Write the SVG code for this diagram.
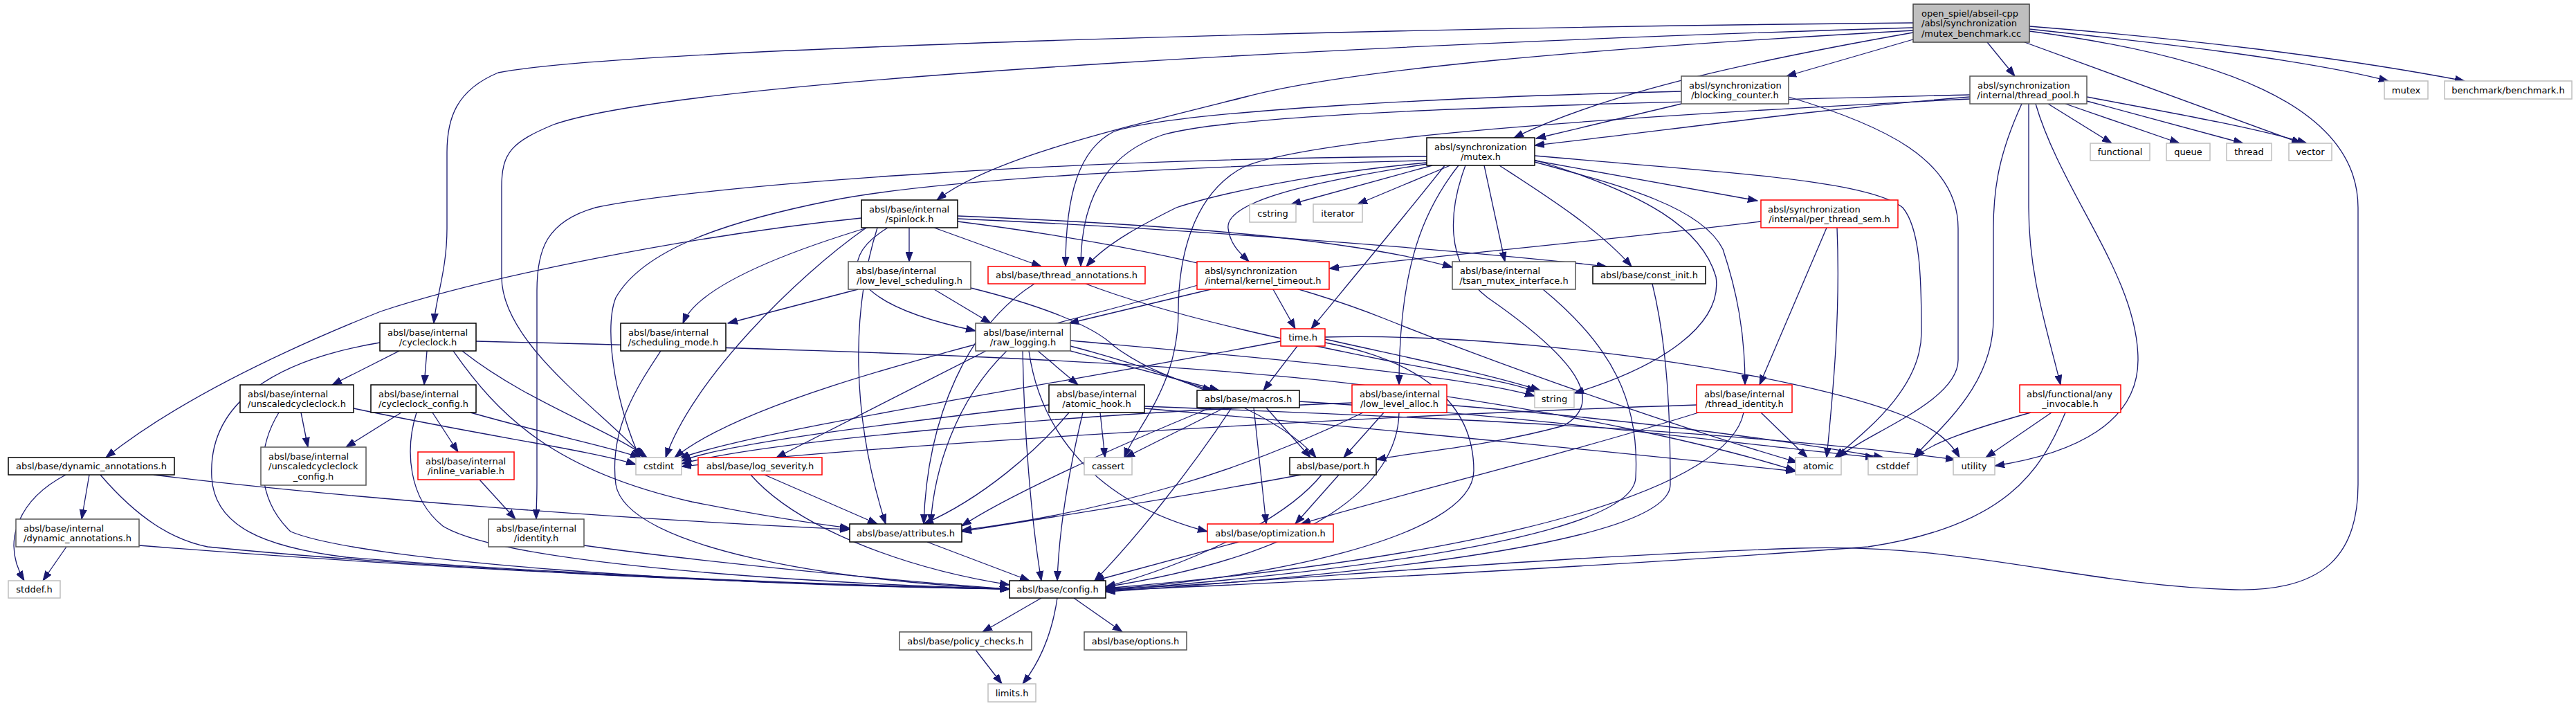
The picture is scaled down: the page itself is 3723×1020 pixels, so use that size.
<svg xmlns="http://www.w3.org/2000/svg" width="3723" height="1020" viewBox="0 0 3723 1020">
<defs>
<style>
.e{fill:none;stroke:#191970;stroke-width:1.3;marker-end:url(#ah)}
.b{fill:#fff;stroke:#000;stroke-width:1.5}
.g{fill:#fff;stroke:#555;stroke-width:1.5}
.r{fill:#fff;stroke:#f00;stroke-width:1.5}
.x{fill:#fff;stroke:#bfbfbf;stroke-width:1.5}
.root{fill:#bfbfbf;stroke:#444;stroke-width:1.5}
text{font-family:"DejaVu Sans","Liberation Sans",sans-serif;font-size:13px;fill:#000}
.c{text-anchor:middle}
.l{text-anchor:start}
</style>
<marker id="ah" markerUnits="userSpaceOnUse" markerWidth="15" markerHeight="11" refX="14" refY="5.5" orient="auto"><path d="M0,0.5 L14,5.5 L0,10.5 z" fill="#191970" stroke="#191970" stroke-width="1"/></marker>
</defs>
<rect width="3723" height="1020" fill="#fff"/>
<g id="edges">
<path class="e" d="M2765,33 C2000,40 900,70 720,105 C660,130 646,170 646,220 L646,330 C646,390 630,430 627,467"/>
<path class="e" d="M2765,40 C2100,60 1000,110 800,180 C740,205 725,220 725,270 L725,400 C725,500 880,600 930,661"/>
<path class="e" d="M2933,45 C3200,80 3408,150 3408,300 L3408,700 C3408,800 3360,855 3230,852 C3000,845 2850,785 2600,792 C2200,805 1800,845 1598,851"/>
<path class="e" d="M2926,61 L3326,207"/>
<path class="e" d="M2933,42 C3100,60 3330,85 3452,117"/>
<path class="e" d="M2933,38 C3150,55 3380,82 3562,117"/>
<path class="e" d="M2872,61 L2912,110"/>
<path class="e" d="M2765,57 L2582,110"/>
<path class="e" d="M2765,47 C2550,85 2330,130 2188,199"/>
<path class="e" d="M2765,44 C2300,70 1950,100 1800,140 C1600,190 1430,230 1354,289"/>
<path class="e" d="M2430,150 L2220,200"/>
<path class="e" d="M2430,132 C2100,140 1700,160 1610,190 C1560,215 1540,280 1540,385"/>
<path class="e" d="M2585,140 C2720,180 2830,230 2830,330 L2830,520 C2830,580 2700,625 2656,661"/>
<path class="e" d="M2847,140 C2600,160 2400,190 2218,210"/>
<path class="e" d="M2847,137 C2300,150 1800,160 1680,195 C1590,225 1562,300 1562,385"/>
<path class="e" d="M2847,143 C2300,170 1900,200 1800,240 C1720,280 1703,380 1703,450 C1703,560 1640,620 1625,661"/>
<path class="e" d="M2960,150 L3052,207"/>
<path class="e" d="M2985,150 L3150,207"/>
<path class="e" d="M3016,146 L3242,207"/>
<path class="e" d="M3016,140 C3150,165 3260,185 3334,207"/>
<path class="e" d="M2922,150 C2890,220 2881,270 2881,330 L2881,460 C2881,560 2800,620 2766,661"/>
<path class="e" d="M2932,150 L2932,300 C2932,400 2960,480 2978,556"/>
<path class="e" d="M2942,150 C2980,280 3090,400 3090,520 C3090,610 3000,655 2883,673"/>
<path class="e" d="M2070,239 L1866,295"/>
<path class="e" d="M2096,239 L1962,295"/>
<path class="e" d="M2062,237 C1900,262 1770,290 1775,330 C1778,355 1795,368 1805,378"/>
<path class="e" d="M2088,239 C2040,300 1990,360 1895,475"/>
<path class="e" d="M2145,239 L2175,378"/>
<path class="e" d="M2167,239 C2230,280 2310,330 2358,385"/>
<path class="e" d="M2108,239 C2060,300 2022,380 2022,556"/>
<path class="e" d="M2218,234 C2350,270 2460,300 2490,360 C2510,420 2522,480 2522,556"/>
<path class="e" d="M2118,239 C2095,300 2085,380 2150,430 C2280,520 2320,580 2260,615 C2150,645 2050,652 1989,664"/>
<path class="e" d="M2218,231 C2380,280 2460,330 2480,400 C2490,470 2400,530 2275,568"/>
<path class="e" d="M2218,225 C2500,250 2700,260 2750,300 C2775,330 2777,400 2777,480 C2777,560 2700,620 2652,661"/>
<path class="e" d="M2062,226 C1500,230 1000,270 860,300 C790,320 776,360 776,420 L776,700 C776,720 775,735 775,750"/>
<path class="e" d="M2062,232 C1700,240 1350,260 1200,290 C1050,320 930,360 890,430 C870,480 895,600 925,661"/>
<path class="e" d="M2062,235 C1900,250 1760,280 1700,300 C1660,320 1600,350 1570,385"/>
<path class="e" d="M2218,232 L2540,290"/>
<path class="e" d="M1384,312 C1700,325 1950,345 2099,386"/>
<path class="e" d="M1384,316 C1700,330 2100,360 2322,385"/>
<path class="e" d="M1384,320 C1700,360 1900,420 2000,460 C2200,540 2450,625 2598,668"/>
<path class="e" d="M1252,329 C1150,400 1000,550 962,661"/>
<path class="e" d="M1268,329 C1230,450 1230,600 1280,757"/>
<path class="e" d="M1245,315 C1000,340 700,400 550,450 C350,530 230,600 153,661"/>
<path class="e" d="M1314,329 L1314,378"/>
<path class="e" d="M1283,329 C1200,380 1230,440 1410,478"/>
<path class="e" d="M1260,327 C1150,360 1010,410 987,467"/>
<path class="e" d="M1350,329 L1505,385"/>
<path class="e" d="M688,493 C1200,505 1700,520 2000,560 C2300,600 2500,650 2595,680"/>
<path class="e" d="M668,507 C760,580 880,620 935,661"/>
<path class="e" d="M655,507 C720,600 800,680 1000,725 C1100,745 1180,757 1228,763"/>
<path class="e" d="M549,495 C400,520 300,580 306,690 C310,760 380,790 500,805 C800,830 1200,845 1459,851"/>
<path class="e" d="M617,507 L613,556"/>
<path class="e" d="M577,507 L480,556"/>
<path class="e" d="M435,596 L445,646"/>
<path class="e" d="M511,590 C700,630 850,650 919,671"/>
<path class="e" d="M403,596 C370,650 370,720 420,768 C520,810 1000,845 1459,851"/>
<path class="e" d="M580,596 L500,646"/>
<path class="e" d="M625,596 L662,653"/>
<path class="e" d="M680,596 C800,630 880,645 925,661"/>
<path class="e" d="M602,596 C585,650 590,720 640,760 C720,810 1100,840 1459,851"/>
<path class="e" d="M693,693 L745,750"/>
<path class="e" d="M844,788 C1000,810 1300,840 1459,851"/>
<path class="e" d="M95,686 C30,720 0,780 35,839"/>
<path class="e" d="M129,686 L118,750"/>
<path class="e" d="M145,686 C200,750 250,780 300,790 C600,820 1100,845 1459,851"/>
<path class="e" d="M222,686 C500,720 900,750 1228,765"/>
<path class="e" d="M96,790 L62,839"/>
<path class="e" d="M201,788 C600,820 1100,845 1459,851"/>
<path class="e" d="M955,507 C920,560 880,620 890,700 C905,790 1200,840 1459,851"/>
<path class="e" d="M1240,418 L1052,467"/>
<path class="e" d="M1350,418 L1432,467"/>
<path class="e" d="M1403,416 C1500,440 1580,470 1610,500 C1650,530 1700,550 1752,564"/>
<path class="e" d="M1495,410 C1400,470 1340,600 1335,757"/>
<path class="e" d="M1569,410 C1700,460 1900,500 2000,520 C2100,540 2180,550 2220,566"/>
<path class="e" d="M1731,412 C1500,480 1100,560 975,661"/>
<path class="e" d="M1750,418 L1545,467"/>
<path class="e" d="M1840,418 L1872,475"/>
<path class="e" d="M1425,507 L1122,661"/>
<path class="e" d="M1455,507 C1380,580 1350,680 1345,757"/>
<path class="e" d="M1478,507 C1480,620 1490,750 1505,839"/>
<path class="e" d="M1500,507 L1558,556"/>
<path class="e" d="M1547,492 C1800,515 2100,540 2218,572"/>
<path class="e" d="M1547,500 C1700,540 1850,600 1902,661"/>
<path class="e" d="M1547,507 L1762,564"/>
<path class="e" d="M1487,507 C1500,600 1560,720 1745,768"/>
<path class="e" d="M1851,493 C1500,560 1100,620 982,662"/>
<path class="e" d="M1875,500 L1826,564"/>
<path class="e" d="M1915,490 C2050,520 2150,540 2226,564"/>
<path class="e" d="M1915,495 C2050,520 2130,580 2130,680 C2130,780 1800,840 1598,851"/>
<path class="e" d="M1915,487 C2200,480 2600,540 2750,600 C2800,620 2820,640 2832,661"/>
<path class="e" d="M1516,585 C1300,610 1050,640 985,666"/>
<path class="e" d="M1590,596 L1597,661"/>
<path class="e" d="M1545,596 C1500,650 1420,720 1335,757"/>
<path class="e" d="M1565,596 C1540,700 1530,780 1528,839"/>
<path class="e" d="M1654,590 C2000,620 2400,660 2595,681"/>
<path class="e" d="M1654,587 C2000,600 2500,620 2826,664"/>
<path class="e" d="M1770,589 L1626,661"/>
<path class="e" d="M1750,589 C1600,650 1450,720 1390,760"/>
<path class="e" d="M1780,589 C1720,680 1640,780 1582,839"/>
<path class="e" d="M1812,589 L1830,757"/>
<path class="e" d="M1830,589 L1894,661"/>
<path class="e" d="M1878,580 C2200,600 2500,640 2710,661"/>
<path class="e" d="M1954,582 C1500,600 1100,640 985,670"/>
<path class="e" d="M1970,596 C1800,680 1600,740 1390,766"/>
<path class="e" d="M2000,596 L1942,661"/>
<path class="e" d="M2022,596 C2020,700 1900,800 1598,848"/>
<path class="e" d="M2091,585 C2400,610 2600,640 2722,661"/>
<path class="e" d="M2452,585 C2000,600 1300,640 985,674"/>
<path class="e" d="M2545,596 L2612,661"/>
<path class="e" d="M2520,596 C2500,700 2200,800 1598,850"/>
<path class="e" d="M2455,596 C2250,660 2000,720 1880,757"/>
<path class="e" d="M2545,320 C2300,350 2050,372 1921,388"/>
<path class="e" d="M2640,329 L2543,556"/>
<path class="e" d="M2655,329 C2660,450 2650,560 2640,661"/>
<path class="e" d="M2935,596 C2850,620 2790,640 2768,661"/>
<path class="e" d="M2965,596 L2870,661"/>
<path class="e" d="M2985,596 C2950,680 2900,760 2700,790 C2300,820 1800,845 1598,853"/>
<path class="e" d="M1105,686 L1268,757"/>
<path class="e" d="M1085,686 C1150,760 1300,820 1459,845"/>
<path class="e" d="M1880,686 C1700,720 1500,750 1390,768"/>
<path class="e" d="M1910,686 C1850,760 1700,820 1598,848"/>
<path class="e" d="M1935,686 L1872,757"/>
<path class="e" d="M2230,418 C2330,500 2370,580 2364,690 C2360,780 1900,830 1598,853"/>
<path class="e" d="M2388,410 C2410,500 2414,600 2414,700 C2414,790 1900,835 1598,855"/>
<path class="e" d="M1340,783 L1488,839"/>
<path class="e" d="M1790,783 L1582,839"/>
<path class="e" d="M1505,864 L1420,913"/>
<path class="e" d="M1552,864 L1622,913"/>
<path class="e" d="M1528,864 C1520,920 1500,960 1478,988"/>
<path class="e" d="M1410,939 L1448,988"/>
</g>
<g id="n-root"><rect class="root" x="2765" y="6" width="168" height="55"/><text class="l" x="2777" y="23.5">open_spiel/abseil-cpp</text><text class="l" x="2777" y="38">/absl/synchronization</text><text class="c" x="2849" y="52.5">/mutex_benchmark.cc</text></g>
<g id="n-bc"><rect class="g" x="2430" y="110" width="155" height="40"/><text class="l" x="2441" y="127.5">absl/synchronization</text><text class="c" x="2507.5" y="142">/blocking_counter.h</text></g>
<g id="n-tp"><rect class="g" x="2847" y="110" width="169" height="40"/><text class="l" x="2858" y="127.5">absl/synchronization</text><text class="c" x="2931.5" y="142">/internal/thread_pool.h</text></g>
<g id="n-mutex"><rect class="x" x="3446" y="117" width="63" height="26"/><text class="c" x="3477.5" y="134.5">mutex</text></g>
<g id="n-bench"><rect class="x" x="3533" y="117" width="184" height="26"/><text class="c" x="3625" y="134.5">benchmark/benchmark.h</text></g>
<g id="n-functional"><rect class="x" x="3021" y="207" width="86" height="25"/><text class="c" x="3064" y="224">functional</text></g>
<g id="n-queue"><rect class="x" x="3131" y="207" width="63" height="25"/><text class="c" x="3162.5" y="224">queue</text></g>
<g id="n-thread"><rect class="x" x="3218" y="207" width="65" height="25"/><text class="c" x="3250.5" y="224">thread</text></g>
<g id="n-vector"><rect class="x" x="3308" y="207" width="62" height="25"/><text class="c" x="3339" y="224">vector</text></g>
<g id="n-mutexh"><rect class="b" x="2062" y="199" width="156" height="40"/><text class="l" x="2073" y="216.5">absl/synchronization</text><text class="c" x="2140" y="231">/mutex.h</text></g>
<g id="n-cstring"><rect class="x" x="1806" y="295" width="67" height="26"/><text class="c" x="1839.5" y="312.5">cstring</text></g>
<g id="n-iterator"><rect class="x" x="1898" y="295" width="71" height="26"/><text class="c" x="1933.5" y="312.5">iterator</text></g>
<g id="n-pts"><rect class="r" x="2545" y="289" width="198" height="40"/><text class="l" x="2555" y="306.5">absl/synchronization</text><text class="c" x="2644" y="321">/internal/per_thread_sem.h</text></g>
<g id="n-spin"><rect class="b" x="1245" y="289" width="139" height="40"/><text class="l" x="1256" y="306.5">absl/base/internal</text><text class="c" x="1314.5" y="321">/spinlock.h</text></g>
<g id="n-cyc"><rect class="b" x="549" y="467" width="139" height="40"/><text class="l" x="560" y="484.5">absl/base/internal</text><text class="c" x="618.5" y="499">/cycleclock.h</text></g>
<g id="n-sched"><rect class="b" x="897" y="467" width="152" height="40"/><text class="l" x="908" y="484.5">absl/base/internal</text><text class="c" x="973" y="499">/scheduling_mode.h</text></g>
<g id="n-lls"><rect class="g" x="1226" y="378" width="177" height="40"/><text class="l" x="1237" y="395.5">absl/base/internal</text><text class="c" x="1314.5" y="410">/low_level_scheduling.h</text></g>
<g id="n-ta"><rect class="r" x="1428" y="385" width="227" height="25"/><text class="c" x="1541.5" y="402">absl/base/thread_annotations.h</text></g>
<g id="n-kt"><rect class="r" x="1730" y="378" width="191" height="40"/><text class="l" x="1741" y="395.5">absl/synchronization</text><text class="c" x="1825.5" y="410">/internal/kernel_timeout.h</text></g>
<g id="n-tsan"><rect class="g" x="2099" y="378" width="178" height="40"/><text class="l" x="2110" y="395.5">absl/base/internal</text><text class="c" x="2188" y="410">/tsan_mutex_interface.h</text></g>
<g id="n-ci"><rect class="b" x="2302" y="385" width="163" height="25"/><text class="c" x="2383.5" y="402">absl/base/const_init.h</text></g>
<g id="n-rl"><rect class="g" x="1410" y="467" width="137" height="40"/><text class="l" x="1421" y="484.5">absl/base/internal</text><text class="c" x="1478.5" y="499">/raw_logging.h</text></g>
<g id="n-time"><rect class="r" x="1851" y="475" width="64" height="25"/><text class="c" x="1883" y="492">time.h</text></g>
<g id="n-ucc"><rect class="b" x="347" y="556" width="164" height="40"/><text class="l" x="358" y="573.5">absl/base/internal</text><text class="c" x="429" y="588">/unscaledcycleclock.h</text></g>
<g id="n-ccc"><rect class="b" x="536" y="556" width="152" height="40"/><text class="l" x="547" y="573.5">absl/base/internal</text><text class="c" x="612" y="588">/cycleclock_config.h</text></g>
<g id="n-ah"><rect class="b" x="1516" y="556" width="138" height="40"/><text class="l" x="1527" y="573.5">absl/base/internal</text><text class="c" x="1585" y="588">/atomic_hook.h</text></g>
<g id="n-macros"><rect class="b" x="1730" y="564" width="148" height="25"/><text class="c" x="1804" y="581">absl/base/macros.h</text></g>
<g id="n-lla"><rect class="r" x="1954" y="556" width="137" height="40"/><text class="l" x="1965" y="573.5">absl/base/internal</text><text class="c" x="2022.5" y="588">/low_level_alloc.h</text></g>
<g id="n-string"><rect class="x" x="2218" y="564" width="57" height="25"/><text class="c" x="2246.5" y="581">string</text></g>
<g id="n-ti"><rect class="r" x="2452" y="556" width="138" height="40"/><text class="l" x="2463" y="573.5">absl/base/internal</text><text class="c" x="2521" y="588">/thread_identity.h</text></g>
<g id="n-ai"><rect class="r" x="2919" y="556" width="146" height="40"/><text class="l" x="2929" y="573.5">absl/functional/any</text><text class="c" x="2992" y="588">_invocable.h</text></g>
<g id="n-uccc"><rect class="g" x="377" y="646" width="152" height="55"/><text class="l" x="388" y="663.5">absl/base/internal</text><text class="l" x="388" y="678">/unscaledcycleclock</text><text class="c" x="453" y="692.5">_config.h</text></g>
<g id="n-iv"><rect class="r" x="604" y="653" width="139" height="40"/><text class="l" x="615" y="670.5">absl/base/internal</text><text class="c" x="673.5" y="685">/inline_variable.h</text></g>
<g id="n-da"><rect class="b" x="12" y="661" width="240" height="25"/><text class="c" x="132" y="678">absl/base/dynamic_annotations.h</text></g>
<g id="n-cstdint"><rect class="x" x="919" y="661" width="66" height="25"/><text class="c" x="952" y="678">cstdint</text></g>
<g id="n-ls"><rect class="r" x="1009" y="661" width="179" height="25"/><text class="c" x="1098.5" y="678">absl/base/log_severity.h</text></g>
<g id="n-cassert"><rect class="x" x="1567" y="661" width="69" height="25"/><text class="c" x="1601.5" y="678">cassert</text></g>
<g id="n-port"><rect class="b" x="1864" y="661" width="125" height="25"/><text class="c" x="1926.5" y="678">absl/base/port.h</text></g>
<g id="n-atomic"><rect class="x" x="2595" y="661" width="66" height="25"/><text class="c" x="2628" y="678">atomic</text></g>
<g id="n-cstddef"><rect class="x" x="2700" y="661" width="71" height="25"/><text class="c" x="2735.5" y="678">cstddef</text></g>
<g id="n-utility"><rect class="x" x="2823" y="661" width="60" height="25"/><text class="c" x="2853" y="678">utility</text></g>
<g id="n-ida"><rect class="g" x="23" y="750" width="178" height="40"/><text class="l" x="34" y="767.5">absl/base/internal</text><text class="c" x="112" y="782">/dynamic_annotations.h</text></g>
<g id="n-id"><rect class="g" x="706" y="750" width="138" height="40"/><text class="l" x="717" y="767.5">absl/base/internal</text><text class="c" x="775" y="782">/identity.h</text></g>
<g id="n-attr"><rect class="b" x="1228" y="757" width="162" height="26"/><text class="c" x="1309" y="774.5">absl/base/attributes.h</text></g>
<g id="n-opt"><rect class="r" x="1745" y="757" width="182" height="26"/><text class="c" x="1836" y="774.5">absl/base/optimization.h</text></g>
<g id="n-stddef"><rect class="x" x="12" y="839" width="75" height="25"/><text class="c" x="49.5" y="856">stddef.h</text></g>
<g id="n-config"><rect class="b" x="1459" y="839" width="139" height="25"/><text class="c" x="1528.5" y="856">absl/base/config.h</text></g>
<g id="n-pc"><rect class="g" x="1300" y="913" width="191" height="26"/><text class="c" x="1395.5" y="930.5">absl/base/policy_checks.h</text></g>
<g id="n-opts"><rect class="g" x="1567" y="913" width="148" height="26"/><text class="c" x="1641" y="930.5">absl/base/options.h</text></g>
<g id="n-limits"><rect class="x" x="1428" y="988" width="69" height="26"/><text class="c" x="1462.5" y="1005.5">limits.h</text></g>
</svg>
